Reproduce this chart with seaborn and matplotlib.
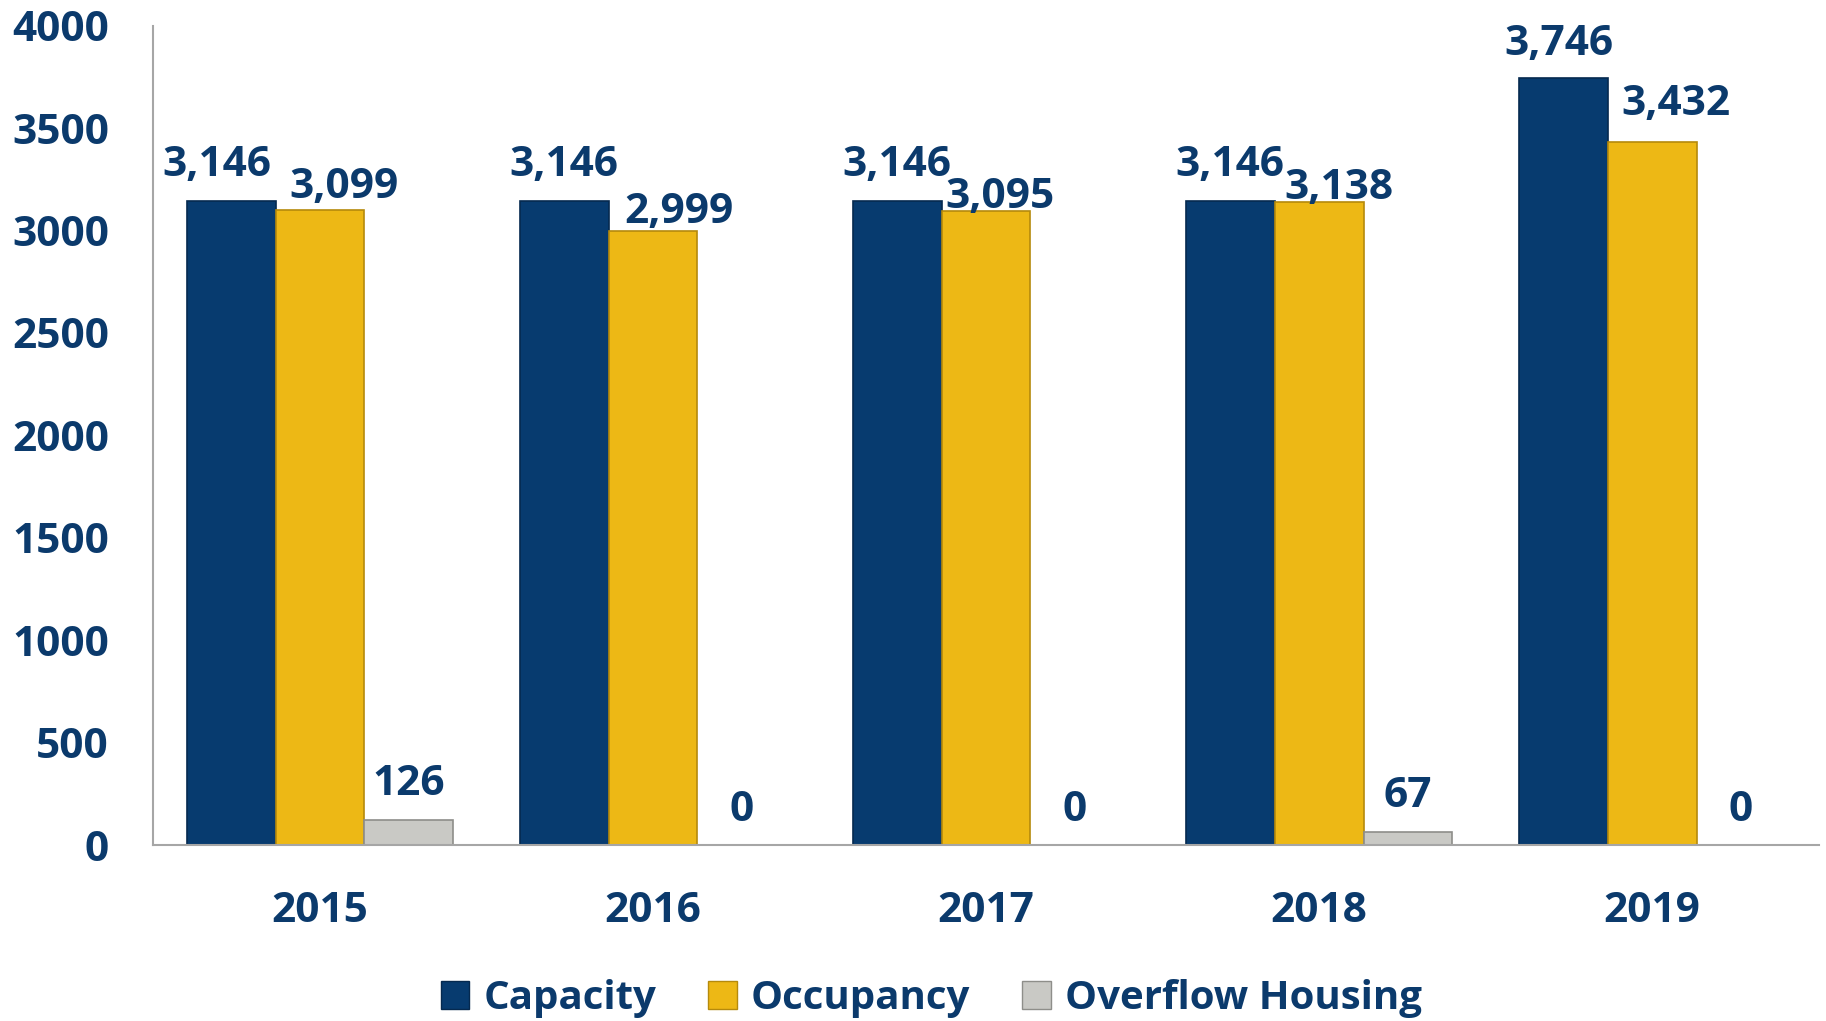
import matplotlib
matplotlib.use("Agg")
import matplotlib.pyplot as plt
import seaborn as sns
import pandas as pd

years = ["2015", "2016", "2017", "2018", "2019"]
series = ["Capacity", "Occupancy", "Overflow Housing"]
capacity = [3146, 3146, 3146, 3146, 3746]
occupancy = [3099, 2999, 3095, 3138, 3432]
overflow = [126, 0, 0, 67, 0]
yticks = [0, 500, 1000, 1500, 2000, 2500, 3000, 3500, 4000]

colors = ["#073B6F", "#EDB815", "#C9C9C5"]
edges = ["#05294F", "#B58A0C", "#8E8E8A"]
text_color = "#0B3A6C"

# label offsets (points) per series / year: (dx, dy)
label_offsets = [
    [(-10, 25), (0, 25), (0, 25), (0, 25), (-3, 24)],
    [(17, 16), (19, 13), (10, 10), (14, 10), (17, 27)],
    [(0, 25), (0, 25), (0, 25), (0, 25), (0, 25)],
]

sns.set_theme(style="white")
plt.rcParams['font.family'] = ['Open Sans', 'DejaVu Sans']
plt.rcParams['font.weight'] = 'bold'

df = pd.DataFrame({
    "Year": years * 3,
    "Series": [series[0]] * 5 + [series[1]] * 5 + [series[2]] * 5,
    "Value": capacity + occupancy + overflow,
})

fig = plt.figure(figsize=(18.26, 10.21), dpi=100)
ax = fig.add_axes([0.084, 0.172, 0.912, 0.803])

sns.barplot(data=df, x="Year", y="Value", hue="Series", order=years,
            hue_order=series, palette=colors, width=0.8, ax=ax,
            saturation=1, legend=False)

FS = 30.5
for i, cont in enumerate(ax.containers):
    for j, p in enumerate(cont.patches):
        p.set_edgecolor(edges[i])
        p.set_linewidth(1.2)
        v = cont.datavalues[j]
        dx, dy = label_offsets[i][j]
        ax.annotate(f"{v:,.0f}", (p.get_x() + p.get_width() / 2, p.get_height()),
                    xytext=(dx, dy), textcoords="offset points",
                    ha="center", va="center", fontsize=FS, fontweight='bold',
                    color=text_color)

ax.set_ylim(0, 4000)
ax.set_yticks(yticks)
ax.set_yticklabels([str(t) for t in yticks])
ax.set_xlabel("")
ax.set_ylabel("")
ax.tick_params(axis='y', length=0, pad=32, labelsize=FS, labelcolor=text_color)
ax.tick_params(axis='x', length=0, pad=33, labelsize=FS, labelcolor=text_color)
for lab in ax.get_xticklabels() + ax.get_yticklabels():
    lab.set_fontweight('bold')

for s in ["top", "right"]:
    ax.spines[s].set_visible(False)
for s in ["left", "bottom"]:
    ax.spines[s].set_color("#A6A6A6")
    ax.spines[s].set_linewidth(1.5)

handles = [plt.Rectangle((0, 0), 1, 1, facecolor=colors[i], edgecolor=edges[i]) for i in range(3)]
leg = fig.legend(handles, series, loc="center", bbox_to_anchor=(0.51, 0.022), ncol=3,
                 frameon=False, fontsize=29, handlelength=0.7, handleheight=0.7,
                 columnspacing=1.3, handletextpad=0.35)
for t in leg.get_texts():
    t.set_color(text_color)
    t.set_fontweight('bold')

fig.savefig("out.png", dpi=100)
